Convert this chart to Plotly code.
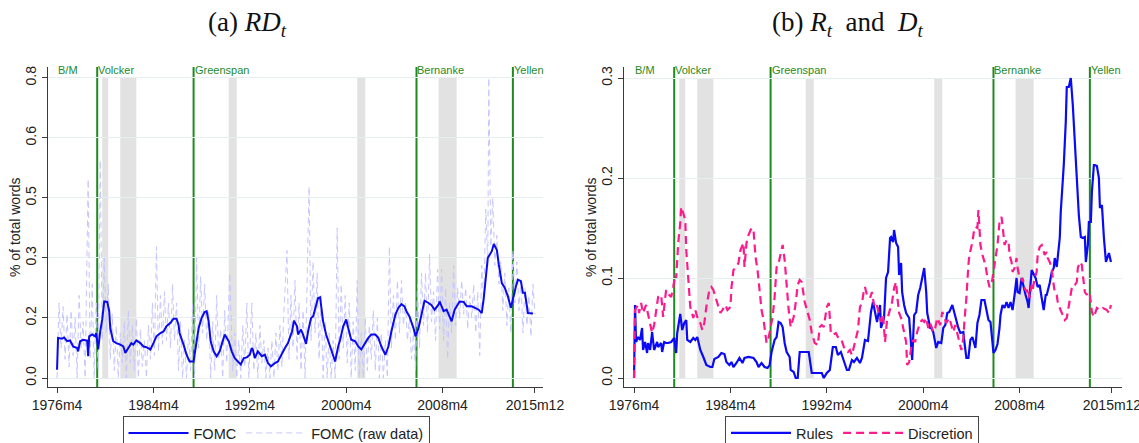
import plotly.graph_objects as go

# ---------------- data (x = months since 1976m4) ----------------
tick_months = [0, 96, 192, 288, 384, 476]
tick_labels = ["1976m4", "1984m4", "1992m4", "2000m4", "2008m4", "2015m12"]

chair_names = ["B/M", "Volcker", "Greenspan", "Bernanke", "Yellen"]
chair_start = [0, 40, 136, 358, 454]
chair_has_line = [False, True, True, True, True]

rec_start = [45, 63, 171, 299, 380]
rec_end = [51, 79, 179, 307, 398]

# Panel (a): FOMC smoothed RD_t
fomc_m = [0, 1, 5, 7, 10, 13, 16, 20, 21, 23,
          26, 30, 31, 32, 35, 38, 39, 41, 43, 45,
          47, 50, 52, 53, 56, 59, 63, 66, 68, 71,
          74, 76, 79, 83, 86, 89, 93, 96, 99, 103,
          106, 109, 113, 116, 119, 121, 122, 126, 129, 132,
          136, 137, 141, 144, 147, 149, 151, 153, 156, 159,
          162, 166, 167, 171, 174, 177, 181, 183, 186, 189,
          192, 194, 195, 197, 200, 204, 207, 210, 213, 217,
          220, 224, 227, 230, 234, 236, 239, 240, 243, 245,
          248, 250, 253, 255, 259, 260, 262, 264, 265, 268,
          272, 275, 277, 280, 282, 285, 288, 290, 293, 297,
          300, 303, 307, 310, 313, 317, 320, 323, 327, 330,
          333, 337, 340, 343, 346, 348, 351, 355, 357, 360,
          363, 366, 370, 373, 376, 380, 381, 385, 388, 391,
          393, 396, 401, 405, 408, 413, 416, 420, 423, 425,
          429, 433, 435, 438, 440, 443, 446, 449, 452, 454,
          457, 459, 462, 464, 466, 469, 472, 474]
fomc_v = [0.022, 0.107, 0.105, 0.108, 0.098, 0.100, 0.084, 0.080, 0.071, 0.098,
          0.102, 0.100, 0.058, 0.111, 0.116, 0.111, 0.120, 0.076, 0.124, 0.156,
          0.204, 0.203, 0.178, 0.133, 0.098, 0.093, 0.089, 0.084, 0.067, 0.080,
          0.093, 0.089, 0.100, 0.093, 0.084, 0.082, 0.076, 0.093, 0.111, 0.120,
          0.124, 0.138, 0.147, 0.158, 0.158, 0.142, 0.120, 0.089, 0.062, 0.044,
          0.044, 0.062, 0.133, 0.160, 0.176, 0.178, 0.151, 0.098, 0.071, 0.058,
          0.071, 0.107, 0.116, 0.098, 0.071, 0.053, 0.040, 0.036, 0.053, 0.055,
          0.062, 0.080, 0.076, 0.053, 0.071, 0.058, 0.062, 0.040, 0.031, 0.040,
          0.044, 0.067, 0.080, 0.093, 0.124, 0.153, 0.138, 0.116, 0.129, 0.116,
          0.091, 0.124, 0.160, 0.164, 0.204, 0.213, 0.215, 0.169, 0.151, 0.116,
          0.084, 0.062, 0.044, 0.084, 0.102, 0.138, 0.156, 0.133, 0.102, 0.098,
          0.084, 0.076, 0.093, 0.107, 0.116, 0.116, 0.107, 0.084, 0.062, 0.084,
          0.124, 0.169, 0.187, 0.197, 0.191, 0.178, 0.164, 0.133, 0.111, 0.133,
          0.169, 0.206, 0.200, 0.194, 0.182, 0.196, 0.204, 0.178, 0.182, 0.164,
          0.151, 0.182, 0.204, 0.203, 0.191, 0.191, 0.187, 0.182, 0.173, 0.213,
          0.320, 0.338, 0.357, 0.342, 0.302, 0.253, 0.240, 0.218, 0.187, 0.213,
          0.244, 0.262, 0.258, 0.227, 0.227, 0.173, 0.172, 0.172]

# Panel (a): FOMC raw data
raw_m = [0, 2, 4, 6, 8, 10, 12, 14, 16, 18,
         20, 22, 24, 26, 28, 31, 33, 35, 37, 39,
         41, 43, 45, 47, 49, 51, 53, 55, 57, 59,
         61, 63, 65, 67, 69, 71, 73, 75, 77, 79,
         81, 83, 85, 87, 89, 91, 93, 95, 97, 99,
         101, 103, 105, 107, 109, 111, 113, 115, 117, 119,
         121, 123, 125, 127, 129, 131, 133, 135, 137, 139,
         141, 143, 145, 147, 149, 151, 153, 155, 157, 159,
         161, 163, 165, 167, 169, 172, 175, 177, 179, 181,
         183, 185, 187, 189, 191, 194, 196, 198, 200, 202,
         204, 206, 208, 210, 212, 214, 216, 218, 220, 222,
         224, 226, 229, 231, 233, 235, 237, 239, 241, 243,
         245, 247, 249, 251, 253, 255, 257, 259, 261, 263,
         265, 267, 269, 271, 273, 275, 277, 279, 281, 283,
         285, 287, 289, 291, 293, 295, 297, 299, 301, 303,
         305, 307, 309, 311, 313, 315, 317, 319, 321, 323,
         325, 327, 329, 331, 333, 335, 337, 339, 341, 343,
         345, 347, 349, 351, 353, 355, 357, 359, 361, 363,
         365, 367, 369, 371, 373, 375, 377, 379, 381, 383,
         385, 387, 389, 391, 393, 395, 397, 399, 401, 403,
         405, 407, 409, 411, 413, 415, 417, 419, 421, 423,
         425, 427, 429, 430, 432, 434, 436, 438, 440, 442,
         444, 446, 448, 450, 452, 454, 456, 458, 460, 462,
         464, 466, 468, 470, 472, 474, 476]
raw_v = [0.0, 0.20, 0.08, 0.19, 0.05, 0.17, 0.03, 0.18, 0.06, 0.16,
         0.0, 0.22, 0.08, 0.15, 0.0, 0.53, 0.05, 0.25, 0.0, 0.20,
         0.02, 0.58, 0.10, 0.32, 0.12, 0.25, 0.05, 0.17, 0.02, 0.14,
         0.0, 0.12, 0.04, 0.15, 0.0, 0.18, 0.04, 0.14, 0.02, 0.16,
         0.0, 0.13, 0.03, 0.10, 0.0, 0.14, 0.05, 0.20, 0.06, 0.35,
         0.07, 0.22, 0.09, 0.23, 0.10, 0.20, 0.08, 0.25, 0.10, 0.20,
         0.02, 0.15, 0.0, 0.10, 0.0, 0.13, 0.02, 0.20, 0.0, 0.32,
         0.08, 0.27, 0.12, 0.25, 0.10, 0.18, 0.0, 0.15, 0.02, 0.22,
         0.05, 0.13, 0.0, 0.18, 0.04, 0.28, 0.02, 0.12, 0.0, 0.10,
         0.0, 0.14, 0.03, 0.20, 0.0, 0.20, 0.02, 0.12, 0.0, 0.14,
         0.04, 0.10, 0.0, 0.08, 0.0, 0.10, 0.0, 0.12, 0.02, 0.14,
         0.03, 0.18, 0.34, 0.05, 0.22, 0.08, 0.26, 0.05, 0.20, 0.02,
         0.18, 0.0, 0.25, 0.51, 0.10, 0.31, 0.12, 0.28, 0.05, 0.22,
         0.0, 0.15, 0.0, 0.12, 0.0, 0.10, 0.0, 0.40, 0.05, 0.25,
         0.08, 0.22, 0.04, 0.20, 0.0, 0.15, 0.02, 0.26, 0.0, 0.12,
         0.0, 0.16, 0.02, 0.14, 0.05, 0.18, 0.02, 0.16, 0.0, 0.12,
         0.0, 0.10, 0.0, 0.35, 0.08, 0.22, 0.10, 0.26, 0.12, 0.26,
         0.14, 0.20, 0.10, 0.16, 0.05, 0.12, 0.02, 0.25, 0.08, 0.28,
         0.14, 0.28, 0.12, 0.33, 0.15, 0.23, 0.10, 0.29, 0.13, 0.29,
         0.10, 0.24, 0.05, 0.20, 0.12, 0.30, 0.14, 0.24, 0.16, 0.26,
         0.17, 0.24, 0.13, 0.22, 0.16, 0.25, 0.12, 0.23, 0.06, 0.30,
         0.20, 0.45, 0.30, 0.80, 0.35, 0.48, 0.30, 0.38, 0.25, 0.31,
         0.18, 0.28, 0.14, 0.24, 0.12, 0.34, 0.20, 0.31, 0.18, 0.26,
         0.12, 0.24, 0.14, 0.22, 0.11, 0.25, 0.17]

# Panel (b): Rules R_t
rules_m = [0, 1, 2, 4, 6, 8, 9, 11, 13, 14,
           16, 18, 20, 23, 24, 27, 28, 30, 32, 34,
           37, 40, 42, 43, 46, 48, 50, 52, 53, 56,
           59, 61, 63, 66, 69, 72, 76, 78, 80, 84,
           87, 90, 92, 95, 97, 99, 102, 105, 108, 110,
           114, 119, 122, 124, 127, 130, 133, 135, 137, 140,
           142, 144, 146, 148, 150, 152, 155, 156, 159, 161,
           163, 165, 170, 174, 177, 182, 187, 189, 192, 195,
           198, 201, 203, 206, 208, 212, 214, 217, 219, 222,
           225, 227, 230,
           233, 236, 238, 240, 242, 245, 246, 249, 251, 253,
           255, 256, 258, 259, 261, 263, 264, 266, 267, 269,
           271, 274, 276, 277, 279, 281, 283, 285, 287, 289,
           291, 292, 295, 296, 298, 299, 301, 303, 306, 308,
           310, 312, 314, 317, 319, 321, 323, 325, 328, 329,
           331, 333, 335, 337, 340, 342, 344, 346, 349, 351,
           353, 355, 357, 358, 360, 362, 364, 365, 367, 369,
           371, 373, 375, 377, 379, 381, 382, 384, 386, 388,
           390, 392, 393, 396, 397, 400, 402, 404, 406, 408,
           410, 411, 414, 416, 418, 419, 421, 424, 425, 428,
           430, 431, 433, 435, 437, 439, 441, 443, 445, 447,
           449, 450, 452, 453, 455, 456, 458, 459, 461, 463,
           464, 466, 468, 470, 473, 475]
rules_v = [0.0, 0.073, 0.036, 0.041, 0.038, 0.050, 0.028, 0.036, 0.025, 0.035,
           0.028, 0.046, 0.028, 0.036, 0.031, 0.035, 0.026, 0.036, 0.035, 0.035,
           0.036, 0.040, 0.025, 0.045, 0.064, 0.048, 0.055, 0.058, 0.038, 0.036,
           0.040, 0.038, 0.041, 0.028, 0.021, 0.013, 0.011, 0.011, 0.019, 0.021,
           0.025, 0.024, 0.016, 0.013, 0.016, 0.011, 0.015, 0.020, 0.015, 0.020,
           0.021, 0.020, 0.016, 0.011, 0.015, 0.011, 0.010, 0.013, 0.026, 0.038,
           0.041, 0.056, 0.055, 0.051, 0.035, 0.026, 0.021, 0.008, 0.006, 0.0,
           0.0, 0.026, 0.026, 0.026, 0.005, 0.005, 0.005, 0.0, 0.005, 0.008,
           0.031, 0.031, 0.023, 0.026, 0.020, 0.008, 0.008, 0.018, 0.016, 0.020,
           0.015, 0.020, 0.038,
           0.037, 0.066, 0.076, 0.066, 0.056, 0.073, 0.050, 0.060, 0.100, 0.106,
           0.140, 0.141, 0.136, 0.148, 0.135, 0.131, 0.103, 0.115, 0.086, 0.073,
           0.065, 0.060, 0.036, 0.018, 0.063, 0.066, 0.083, 0.090, 0.100, 0.110,
           0.086, 0.065, 0.050, 0.050, 0.046, 0.041, 0.030, 0.036, 0.035, 0.050,
           0.053, 0.065, 0.066, 0.073, 0.065, 0.060, 0.050, 0.045, 0.046, 0.036,
           0.020, 0.020, 0.038, 0.041, 0.030, 0.055, 0.063, 0.078, 0.078, 0.068,
           0.058, 0.056, 0.033, 0.025, 0.028, 0.034, 0.050, 0.063, 0.073, 0.070,
           0.076, 0.070, 0.076, 0.068, 0.083, 0.100, 0.086, 0.085, 0.100, 0.090,
           0.083, 0.076, 0.070, 0.108, 0.106, 0.100, 0.091, 0.093, 0.080, 0.068,
           0.083, 0.083, 0.095, 0.106, 0.110, 0.120, 0.111, 0.140, 0.166, 0.213,
           0.256, 0.291, 0.291, 0.300, 0.273, 0.235, 0.196, 0.163, 0.141, 0.140,
           0.141, 0.116, 0.133, 0.156, 0.156, 0.186, 0.213, 0.213, 0.212, 0.200,
           0.170, 0.173, 0.140, 0.116, 0.125, 0.116]

# Panel (b): Discretion D_t
disc_m = [0, 1, 4, 5, 7, 9, 12, 14, 16, 18,
          20, 23, 24, 27, 29, 31, 32, 35, 37, 39,
          41, 42, 44, 46, 47, 49, 51, 52, 54, 56,
          57, 59, 61, 63, 66, 68, 70, 72, 75, 77,
          79, 81, 84, 86, 88, 91, 93, 96, 97, 99,
          101, 104, 106, 109, 110, 112, 114, 117, 119, 121,
          123, 125, 127, 129, 130, 132, 134, 136, 138, 140,
          142, 144, 146, 148, 150, 152, 154, 156, 159, 161,
          163, 165, 167, 170, 173, 175, 177, 180, 183, 185,
          187, 189, 192, 194, 196, 198, 201, 203, 206, 208,
          210, 213, 215, 217, 220, 223, 225, 227, 229,
          230, 232, 235, 237, 239, 241, 244, 246, 248, 250,
          252, 255, 257, 259, 261, 262, 264, 266, 269, 271,
          272, 274, 276, 278, 280, 282, 285, 287, 289, 291,
          293, 295, 298, 300, 302, 305, 307, 309, 311, 314,
          316, 318, 320, 322, 324, 326, 328, 329, 331, 333,
          334, 337, 339, 340, 342, 343, 345, 347, 350, 352,
          354, 356, 357, 360, 362, 364, 366, 367, 369, 371,
          373, 374, 376, 377, 379, 381, 382, 384, 386, 387,
          389, 391, 392, 394, 396, 397, 399, 401, 402, 404,
          406, 407, 409, 411, 412, 414, 416, 417, 419, 421,
          422, 424, 426, 427, 429, 431, 432, 434, 436, 437,
          439, 441, 442, 444, 446, 447, 449, 451, 452, 454,
          456, 458, 461, 464, 467, 471, 473, 475]
disc_v = [0.0, 0.068, 0.073, 0.065, 0.075, 0.065, 0.073, 0.063, 0.056, 0.045,
          0.053, 0.075, 0.081, 0.083, 0.061, 0.080, 0.088, 0.083, 0.081, 0.091,
          0.103, 0.100, 0.135, 0.155, 0.171, 0.165, 0.158, 0.128, 0.095, 0.071,
          0.068, 0.060, 0.068, 0.061, 0.055, 0.048, 0.055, 0.071, 0.088, 0.091,
          0.088, 0.081, 0.071, 0.065, 0.068, 0.073, 0.068, 0.071, 0.090, 0.108,
          0.110, 0.115, 0.128, 0.135, 0.111, 0.135, 0.143, 0.150, 0.148, 0.121,
          0.108, 0.088, 0.068, 0.058, 0.051, 0.035, 0.040, 0.051, 0.061, 0.081,
          0.111, 0.115, 0.123, 0.133, 0.118, 0.091, 0.068, 0.051, 0.061, 0.075,
          0.093, 0.098, 0.096, 0.076, 0.065, 0.058, 0.045, 0.035, 0.033, 0.051,
          0.053, 0.051, 0.071, 0.075, 0.045, 0.043, 0.045, 0.041, 0.040, 0.035,
          0.028, 0.026, 0.028, 0.023, 0.035, 0.048, 0.071, 0.075, 0.088,
          0.091, 0.083, 0.080, 0.086, 0.073, 0.076, 0.065, 0.056, 0.063, 0.036,
          0.058, 0.070, 0.076, 0.090, 0.096, 0.083, 0.065, 0.060, 0.046, 0.036,
          0.013, 0.016, 0.030, 0.038, 0.036, 0.046, 0.056, 0.058, 0.056, 0.060,
          0.050, 0.055, 0.046, 0.050, 0.060, 0.053, 0.066, 0.061, 0.055, 0.060,
          0.053, 0.046, 0.053, 0.043, 0.036, 0.028, 0.040, 0.056, 0.080, 0.113,
          0.123, 0.136, 0.150, 0.151, 0.150, 0.168, 0.133, 0.123, 0.113, 0.100,
          0.091, 0.093, 0.100, 0.120, 0.133, 0.156, 0.161, 0.153, 0.133, 0.138,
          0.136, 0.123, 0.116, 0.106, 0.110, 0.120, 0.110, 0.100, 0.098, 0.100,
          0.090, 0.086, 0.090, 0.080, 0.093, 0.088, 0.100, 0.106, 0.123, 0.131,
          0.133, 0.130, 0.123, 0.126, 0.120, 0.116, 0.110, 0.100, 0.086, 0.083,
          0.076, 0.070, 0.065, 0.063, 0.058, 0.060, 0.066, 0.080, 0.090, 0.093,
          0.093, 0.096, 0.110, 0.116, 0.113, 0.103, 0.086, 0.083, 0.086, 0.083,
          0.066, 0.061, 0.070, 0.068, 0.070, 0.068, 0.065, 0.073]

for a, b in [(fomc_m, fomc_v), (raw_m, raw_v), (rules_m, rules_v), (disc_m, disc_v)]:
    assert len(a) == len(b), (len(a), len(b))

# ---------------- styling ----------------
W, H = 1139, 443
SANS = "Liberation Sans, Arial, sans-serif"
SERIF = "Liberation Serif, Times New Roman, serif"
GREEN = "#1f8a1f"
GRID = "#e6eeef"
AXC = "#3a3a3a"
BAND = "#e2e2e2"

def px_x(p):
    return p / W

def px_y(p):
    return 1 - p / H

y_dom = [px_y(387), px_y(67)]
yr_a = [-0.024, 0.829]
yr_b = [-0.009, 0.311]

fig = go.Figure()

fig.add_trace(go.Scatter(x=raw_m, y=raw_v, mode="lines", name="FOMC (raw data)",
                         line=dict(color="#c6c6ff", width=1, dash="6px,4px"),
                         xaxis="x", yaxis="y", legend="legend", legendrank=2))
fig.add_trace(go.Scatter(x=fomc_m, y=fomc_v, mode="lines", name="FOMC",
                         line=dict(color="#0a0af0", width=2),
                         xaxis="x", yaxis="y", legend="legend", legendrank=1))
fig.add_trace(go.Scatter(x=rules_m, y=rules_v, mode="lines", name="Rules",
                         line=dict(color="#0a0af5", width=2.2),
                         xaxis="x2", yaxis="y2", legend="legend2", legendrank=1))
fig.add_trace(go.Scatter(x=disc_m, y=disc_v, mode="lines", name="Discretion",
                         line=dict(color="#ff1a8c", width=2.2, dash="8px,5px"),
                         xaxis="x2", yaxis="y2", legend="legend2", legendrank=2))

shapes = []
annotations = []
for xa, ya, ytop, yr in [("x", "y", 0.8, yr_a), ("x2", "y2", 0.3, yr_b)]:
    for s, e in zip(rec_start, rec_end):
        shapes.append(dict(type="rect", xref=xa, yref=ya, x0=s, x1=e, y0=0, y1=ytop,
                           fillcolor=BAND, line=dict(width=0), layer="below"))
    for name, m, has in zip(chair_names, chair_start, chair_has_line):
        if has:
            shapes.append(dict(type="line", xref=xa, yref=ya, x0=m, x1=m,
                               y0=yr[0], y1=yr[1], line=dict(color=GREEN, width=2),
                               layer="below"))
        annotations.append(dict(text=name, xref=xa, yref="paper", x=m, y=px_y(70),
                                xanchor="left", yanchor="middle", showarrow=False,
                                xshift=-1, font=dict(family=SANS, size=11, color=GREEN)))

# panel titles
annotations.append(dict(text="(a) <i>RD</i><sub><i>t</i></sub>", xref="paper", yref="paper",
                        x=px_x(247), y=px_y(24), xanchor="center", yanchor="middle",
                        showarrow=False, font=dict(family=SERIF, size=27, color="#111")))
annotations.append(dict(text="(b) <i>R</i><sub><i>t</i></sub>&nbsp; and&nbsp; <i>D</i><sub><i>t</i></sub>",
                        xref="paper", yref="paper",
                        x=px_x(847), y=px_y(24), xanchor="center", yanchor="middle",
                        showarrow=False, font=dict(family=SERIF, size=27, color="#111")))
# y-axis titles
for xp in [15, 591]:
    annotations.append(dict(text="% of total words", xref="paper", yref="paper",
                            x=px_x(xp), y=(y_dom[0] + y_dom[1]) / 2, textangle=-90,
                            xanchor="center", yanchor="middle", showarrow=False,
                            font=dict(family=SANS, size=14, color="#222")))

xcommon = dict(tickvals=tick_months, ticktext=tick_labels, showline=True, linecolor=AXC,
               linewidth=1, ticks="outside", ticklen=5, tickcolor=AXC, showgrid=False,
               zeroline=False, automargin=False, ticklabeloverflow="allow",
               tickfont=dict(family=SANS, size=14, color="#222"))
ycommon = dict(showline=True, linecolor=AXC, linewidth=1, ticks="outside", ticklen=5,
               tickcolor=AXC, showgrid=True, gridcolor=GRID, gridwidth=1, zeroline=False,
               automargin=False, tickangle=-90, ticklabeloverflow="allow",
               tickfont=dict(family=SANS, size=14, color="#222"), domain=y_dom)

fig.update_layout(
    width=W, height=H, margin=dict(l=0, r=0, t=0, b=0, autoexpand=False),
    paper_bgcolor="white", plot_bgcolor="white",
    xaxis=dict(domain=[px_x(48), px_x(543)], range=[-9, 484], anchor="y", **xcommon),
    yaxis=dict(anchor="x", range=yr_a, tickvals=[0, 0.16, 0.32, 0.48, 0.64, 0.8],
               ticktext=["0.0", "0.2", "0.3", "0.5", "0.6", "0.8"], **ycommon),
    xaxis2=dict(domain=[px_x(624), px_x(1122)], range=[-10, 486], anchor="y2", **xcommon),
    yaxis2=dict(anchor="x2", range=yr_b, tickvals=[0, 0.1, 0.2, 0.3],
                ticktext=["0.0", "0.1", "0.2", "0.3"], **ycommon),
    legend=dict(orientation="h", x=px_x(276), xanchor="center", y=px_y(416), yanchor="top",
                bordercolor="#444", borderwidth=1, bgcolor="white",
                font=dict(family=SANS, size=14.5, color="#222"), itemwidth=60),
    legend2=dict(orientation="h", x=px_x(852), xanchor="center", y=px_y(416), yanchor="top",
                 bordercolor="#444", borderwidth=1, bgcolor="white",
                 font=dict(family=SANS, size=14.5, color="#222"), itemwidth=60),
    shapes=shapes, annotations=annotations, showlegend=True,
)

fig.write_html("out.html", config={"displayModeBar": False},
               post_script="document.body.style.margin='0';document.body.style.overflow='hidden';")
